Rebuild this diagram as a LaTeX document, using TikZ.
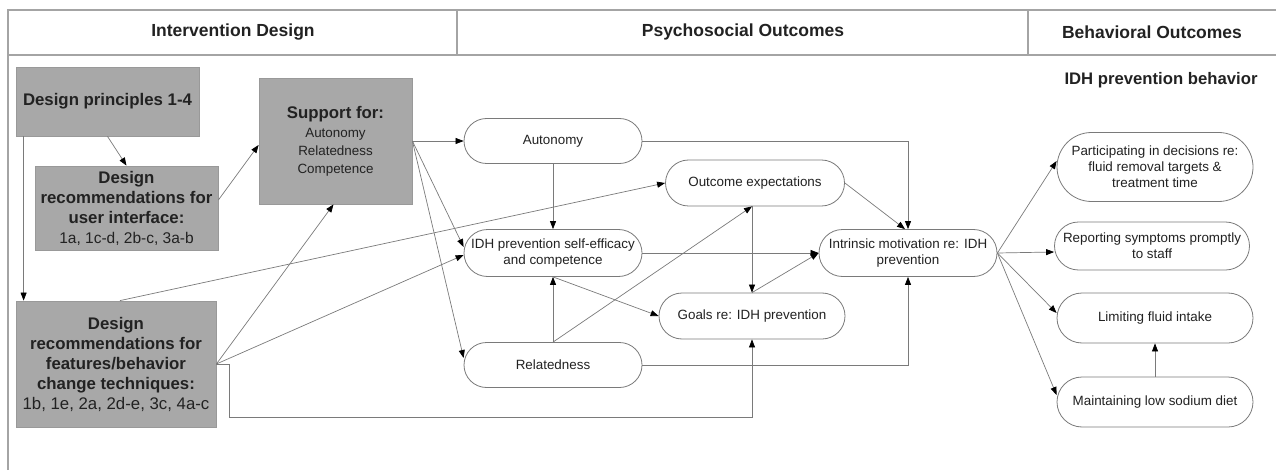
\documentclass[tikz,border=0pt]{standalone}
\usepackage{fontspec}
\setmainfont{Liberation Sans}
\usetikzlibrary{arrows.meta, positioning, shapes.misc}

\definecolor{boxgray}{HTML}{A8A8A8}
\definecolor{edgegray}{HTML}{7A7A7A}
\definecolor{framegray}{HTML}{A4A4A4}
\definecolor{textdark}{HTML}{222222}

\begin{document}
\begin{tikzpicture}[
    x=1pt, y=-1pt,
    graybox/.style={rectangle, draw=black!40, fill=boxgray, line width=0.8pt, align=center,
                    text=textdark, inner sep=2pt, font=\fontsize{16.8}{20}\selectfont},
    oval/.style={rounded rectangle, draw=edgegray, fill=white, line width=0.8pt, align=center,
                 text=textdark, inner sep=2pt, font=\fontsize{13.4}{16.2}\selectfont},
    headtxt/.style={font=\fontsize{17.5}{20}\selectfont\bfseries, text=textdark},
    frame/.style={draw=framegray, line width=1.2pt},
    arrow/.style={-{Triangle[length=8pt, width=6pt, color=black]}, line width=0.7pt, draw=edgegray}
]
    \useasboundingbox (0,0) rectangle (1276,473);

    % Frame and headers
    \draw[frame] (8,470) -- (8,10) -- (1276,10);
    \draw[frame] (8,55) -- (1276,55);
    \draw[frame] (457,10) -- (457,55);
    \draw[frame] (1028,10) -- (1028,55);
    \node[headtxt] (hdesign) at (233,32) {Intervention Design};
    \node[headtxt] (hpsych) at (743,32) {Psychosocial Outcomes};
    \node[headtxt] (hbehav) at (1152,32) {Behavioral Outcomes};
    \node[headtxt, font=\fontsize{16.7}{20}\selectfont\bfseries] (hidh) at (1161,80) {IDH prevention behavior};

    % Intervention design
    \node[graybox, minimum width=183pt, minimum height=69pt] (dp) at (107.5,101.5)
        {\bfseries Design principles 1-4};
    \node[graybox, minimum width=183pt, minimum height=84pt] (ui) at (126.5,208)
        {\bfseries Design\\\bfseries recommendations for\\\bfseries user interface:\\
         {\fontsize{15.5}{20}\selectfont 1a, 1c-d, 2b-c, 3a-b}};
    \node[graybox, minimum width=153pt, minimum height=126pt] (sup) at (335.5,141)
        {\bfseries Support for:\\[-1pt]
         {\fontsize{13.4}{18}\selectfont Autonomy}\\[-2pt]
         {\fontsize{13.4}{18}\selectfont Relatedness}\\[-2pt]
         {\fontsize{13.4}{18}\selectfont Competence}};
    \node[graybox, minimum width=200pt, minimum height=126pt] (feat) at (116,364)
        {\bfseries Design\\\bfseries recommendations for\\\bfseries features/behavior\\
         \bfseries change techniques:\\1b, 1e, 2a, 2d-e, 3c, 4a-c};

    % Psychosocial outcomes
    \node[oval, minimum width=182pt, minimum height=45pt] (aut) at (553,141) {Autonomy};
    \node[oval, minimum width=183pt, minimum height=46pt] (oexp) at (755,183) {Outcome expectations};
    \node[oval, minimum width=182pt, minimum height=47pt] (seff) at (553,253)
        {IDH prevention self-efficacy\\and competence};
    \node[oval, minimum width=190pt, minimum height=46pt] (goal) at (752,316) {Goals re: IDH prevention};
    \node[oval, minimum width=182pt, minimum height=45pt] (rel) at (553,365) {Relatedness};
    \node[oval, minimum width=182pt, minimum height=47pt] (intr) at (908,253)
        {Intrinsic motivation re: IDH\\prevention};

    % Behavioral outcomes
    \node[oval, minimum width=200pt, minimum height=69pt] (part) at (1155,167)
        {Participating in decisions re:\\fluid removal targets \&\\treatment time};
    \node[oval, minimum width=199pt, minimum height=48pt] (rep) at (1152,246)
        {Reporting symptoms promptly\\to staff};
    \node[oval, minimum width=200pt, minimum height=50pt] (lim) at (1155,318) {Limiting fluid intake};
    \node[oval, minimum width=200pt, minimum height=50pt] (maint) at (1155,402) {Maintaining low sodium diet};

    % Design connectors
    \draw[arrow] (dp.south) -- (ui.north);
    \draw[arrow] ([xshift=8pt]dp.south west) -- ([xshift=8pt]feat.north west);
    \draw[arrow] ([yshift=8pt]ui.east) -- ([yshift=-4pt]sup.west);
    \draw[arrow] (feat.east) -- ([xshift=-2pt]sup.south);
    \draw[arrow] ([xshift=4pt]feat.north) -- (oexp.west);
    \draw[arrow] (feat.east) -- ([yshift=-2pt]seff.west);
    \draw[arrow] (feat.east) -- ++(13,0) -- ++(0,53) -| (goal.south);
    \draw[arrow] (sup.east) -- (aut.west);
    \draw[arrow] (sup.east) -- ([yshift=6pt]seff.west);
    \draw[arrow] (sup.east) -- ([yshift=7pt]rel.west);

    % Psychosocial connectors
    \draw[arrow] (aut.south) -- (seff.north);
    \draw[arrow] (aut.east) -| (intr.north);
    \draw[arrow] (oexp.east) -- ([xshift=-3pt]intr.north);
    \draw[arrow] (seff.east) -- (intr.west);
    \draw[arrow] (goal.north) -- (intr.west);
    \draw[arrow] (rel.east) -| (intr.south);
    \draw[arrow] (rel.north) -- (seff.south);
    \draw[arrow] (rel.north) -- ([xshift=-3pt]oexp.south);
    \draw[arrow] (seff.south) -- (goal.west);
    \draw[arrow] ([xshift=-3pt]oexp.south) -- (goal.north);

    % Behavioral connectors
    \draw[arrow] (intr.east) -- ([yshift=6pt]part.west);
    \draw[arrow] (intr.east) -- ([yshift=-6pt]rep.west);
    \draw[arrow] (intr.east) -- ([yshift=5pt]lim.west);
    \draw[arrow] (intr.east) -- ([yshift=7pt]maint.west);
    \draw[arrow] (maint.north) -- (lim.south);
\end{tikzpicture}
\end{document}
